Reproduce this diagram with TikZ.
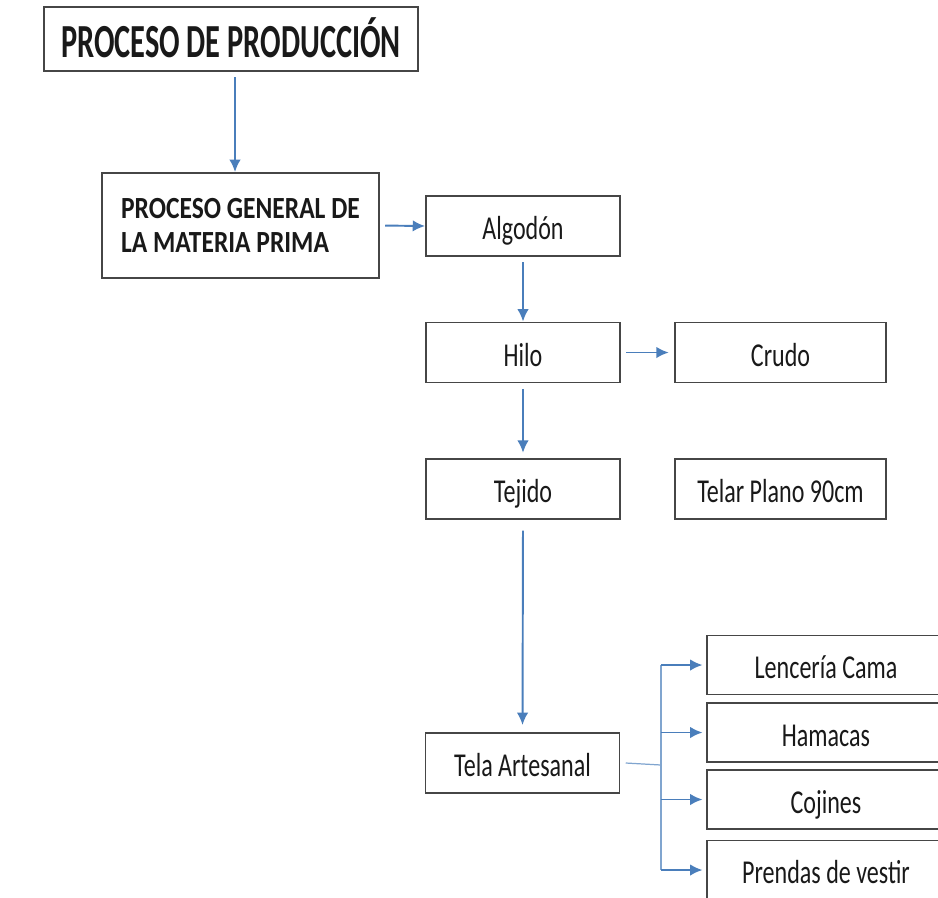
\documentclass[tikz,border=0pt]{standalone}
\usepackage{fontspec}
\setmainfont[FakeStretch=0.72]{Carlito}
\newfontfamily\titlefont[FakeStretch=0.64]{Carlito}
\newfontfamily\headfont[FakeStretch=0.83]{Carlito}
\usetikzlibrary{arrows.meta}
\definecolor{arrowblue}{RGB}{74,126,187}
\definecolor{boxgray}{RGB}{70,70,70}
\begin{document}
\begin{tikzpicture}[
    every node/.style={align=center, text=black!90},
    frame/.style={draw=boxgray, line width=1.1pt, inner sep=0pt},
    box/.style={frame, minimum width=3.88cm, minimum height=1.2cm, text height=15.4pt, text depth=0pt, font=\fontsize{19}{20}\selectfont},
    leaf box/.style={box, minimum width=4.76cm, minimum height=1.18cm},
    flow arrow/.style={draw=arrowblue, line width=1.1pt, shorten <=3pt, -{Latex[length=7pt,width=6.5pt]}},
    bus line/.style={draw=arrowblue!70, line width=0.7pt},
    ]
\useasboundingbox (0,0) rectangle (18.76,-17.94);
\node[box, minimum width=7.48cm, minimum height=1.28cm, text height=21.5pt, font=\titlefont\bfseries\fontsize{27}{28}\selectfont] (prod) at (4.62,-0.78) {PROCESO DE PRODUCCIÓN};
\node[frame, minimum width=5.54cm, minimum height=2.10cm, align=left, font=\headfont\bfseries\fontsize{17.5}{19.5}\selectfont] (general) at (4.81,-4.51) {PROCESO GENERAL DE\\LA MATERIA PRIMA};
\node[box] (algodon) at (10.46,-4.52) {Algodón};
\node[box] (hilo) at (10.46,-7.05) {Hilo};
\node[box, minimum width=4.22cm] (crudo) at (15.61,-7.05) {Crudo};
\node[box] (tejido) at (10.46,-9.78) {Tejido};
\node[box, minimum width=4.22cm] (telar) at (15.61,-9.78) {Telar Plano 90cm};
\node[box] (tela) at (10.45,-15.26) {Tela Artesanal};
\node[leaf box] (lenceria) at (16.52,-13.30) {Lencería Cama};
\node[leaf box] (hamacas) at (16.52,-14.65) {Hamacas};
\node[leaf box] (cojines) at (16.52,-15.99) {Cojines};
\node[leaf box] (prendas) at (16.52,-17.40) {Prendas de vestir};
\coordinate (bus) at (13.22,-15.30);
\draw[flow arrow] ([xshift=0.08cm]prod.south) -- ([xshift=0.08cm]prod.south |- general.north);
\draw[flow arrow] (general.east) -- (algodon.west);
\draw[flow arrow] (algodon.south) -- (hilo.north);
\draw[flow arrow, shorten >=3pt] (hilo.east) -- (crudo.west);
\draw[flow arrow, shorten >=3pt] (hilo.south) -- (tejido.north);
\draw[flow arrow, shorten <=6pt, shorten >=4pt] (tejido.south) -- (tela.north);
\draw[bus line] ([xshift=3pt]tela.east) -- (bus);
\draw[bus line] (bus |- lenceria.west) -- (bus |- prendas.west);
\foreach \leaf in {lenceria,hamacas,cojines,prendas}
    \draw[flow arrow, shorten <=0pt, shorten >=2pt] (bus |- \leaf.west) -- (\leaf.west);
\end{tikzpicture}
\end{document}
